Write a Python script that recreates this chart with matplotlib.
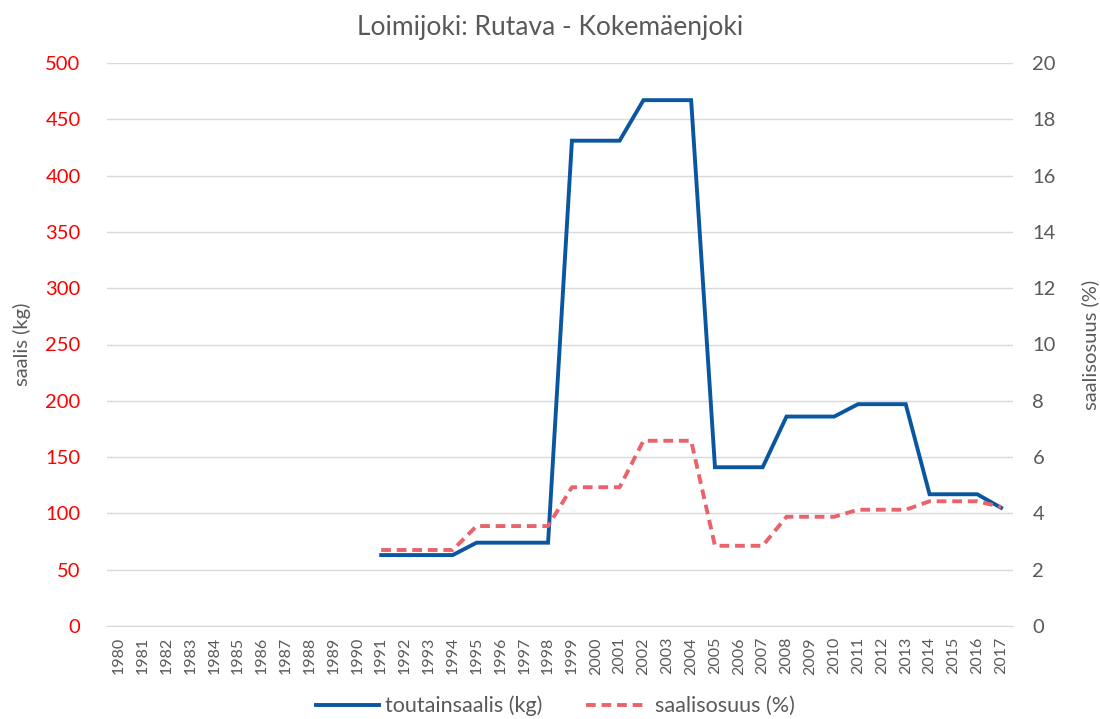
import matplotlib
matplotlib.use("Agg")
import matplotlib.pyplot as plt
import numpy as np

years = [str(y) for y in range(1980, 2018)]
catch_years = list(range(1991, 2018))
catch_kg = [63, 63, 63, 63, 74, 74, 74, 74, 431, 431, 431, 467, 467, 467,
            141, 141, 141, 186, 186, 186, 197, 197, 197, 117, 117, 117, 105]
share_pct = [2.7, 2.7, 2.7, 2.7, 3.55, 3.55, 3.55, 3.55, 4.93, 4.93, 4.93,
             6.58, 6.58, 6.58, 2.85, 2.85, 2.85, 3.88, 3.88, 3.88, 4.13, 4.13, 4.13,
             4.43, 4.43, 4.43, 4.23]

plt.rcParams['font.family'] = ['Lato', 'DejaVu Sans']
gray = '#595959'
blue = '#0A56A0'
red = '#E8646A'

fig = plt.figure(figsize=(11, 7.19), dpi=100)
ax = fig.add_axes([107/1100, 1-626/719, (1013-107)/1100, (626-63)/719])
ax2 = ax.twinx()

xpos = [years.index(str(y)) for y in catch_years]
l1, = ax.plot(xpos, catch_kg, color=blue, lw=2.8, solid_joinstyle='miter')
l2, = ax2.plot(xpos, share_pct, color=red, lw=2.8, ls=(0, (2.5, 1.5)))

ax.set_xlim(-0.5, len(years) - 0.5)
ax.set_ylim(0, 500)
ax2.set_ylim(0, 20)
ax.set_yticks(np.arange(0, 501, 50))
ax2.set_yticks(np.arange(0, 21, 2))
ax.set_xticks(range(len(years)))
ax.set_xticklabels(years, rotation=90, fontsize=11.5, color=gray)
ax.tick_params(axis='x', length=0, pad=8)
ax.tick_params(axis='y', length=0, labelsize=14.5, labelcolor='#FF0000', pad=19)
ax2.tick_params(axis='y', length=0, labelsize=14.5, labelcolor=gray, pad=14)
ax.grid(axis='y', color='#D9D9D9', lw=1)
ax.set_axisbelow(True)
for a in (ax, ax2):
    for s in a.spines.values():
        s.set_visible(False)
ax.spines['bottom'].set_visible(True)
ax.spines['bottom'].set_color('#D9D9D9')

ax.set_ylabel('saalis (kg)', color=gray, fontsize=14.5, rotation=90,
              va='center', ha='center')
ax2.set_ylabel('saalisosuus (%)', color=gray, fontsize=14.5, rotation=90,
               va='center', ha='center')
ax.yaxis.set_label_coords((22-107)/906, 0.5)
ax2.yaxis.set_label_coords((1090-107)/906, 0.5)

fig.suptitle('Loimijoki: Rutava - Kokemäenjoki', y=1-28/719, va='center',
             fontsize=19, color=gray)
fig.legend([l1, l2], ['toutainsaalis (kg)', 'saalisosuus (%)'],
           loc='center', bbox_to_anchor=(0.505, 1-706/719), ncol=2, frameon=False,
           fontsize=15.5, labelcolor=gray, handlelength=2.9, handletextpad=0.3,
           columnspacing=2.0)

fig.savefig('out.png', dpi=100)
